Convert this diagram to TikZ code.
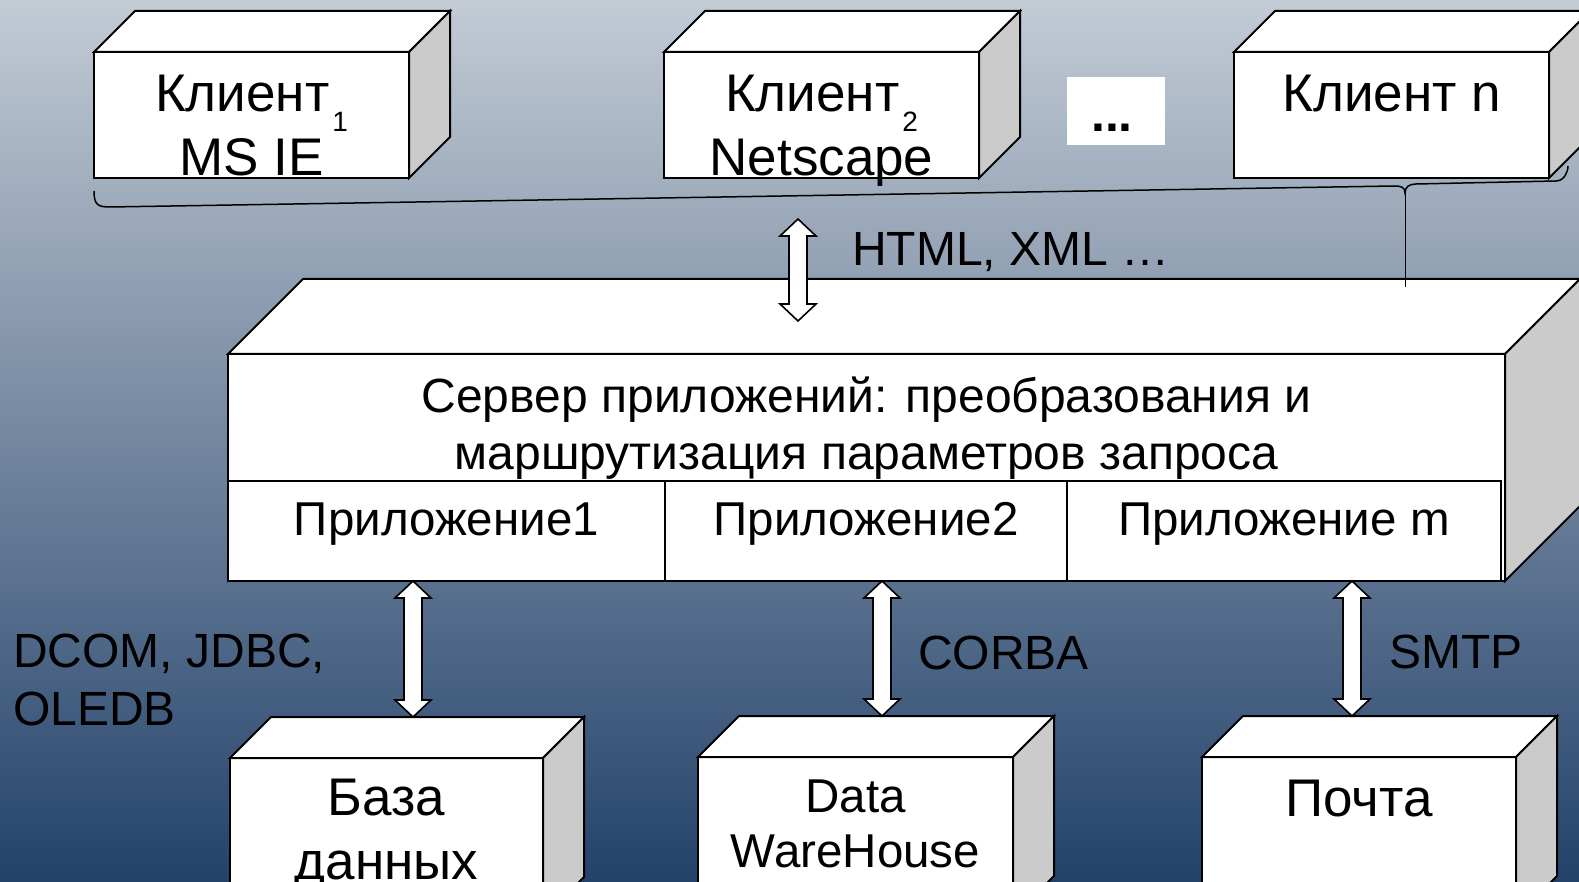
\documentclass[tikz,border=0pt]{standalone}
\usepackage{fontspec}
\setmainfont{Liberation Sans}
\usetikzlibrary{calc,positioning}
\definecolor{BgTop}{HTML}{C3CBD5}
\definecolor{BgMid}{HTML}{72869C}
\definecolor{BgBot}{HTML}{23426A}
\definecolor{Side}{HTML}{CBCBCB}
\tikzset{
  face/.style={draw=black, line width=2pt, fill=white, line join=miter},
  front/.style={face, rectangle, inner sep=0pt, outer sep=0pt, anchor=north west},
  cell/.style={front, minimum height=100pt, text height=20pt, text depth=12pt,
    font=\fontsize{47.5}{55}\selectfont},
  txt/.style={align=center, inner sep=0pt, anchor=base},
  lbl/.style={inner sep=0pt, anchor=base west, align=left, font=\fontsize{48}{58}\selectfont},
  dotbox/.style={fill=white, inner sep=0pt, outer sep=0pt, anchor=north west,
    font=\fontsize{50}{60}\selectfont\bfseries},
  pipe/.style={draw=black, line width=1.6pt, fill=white, line join=miter},
  brace/.style={draw=black, line width=1.5pt}
}
% top and side faces of a box, #1 = front node, #2 = depth
\newcommand\cubeback[2]{%
  \draw[face] (#1.north west) -- ++(#2,-#2) -- ($(#1.north east)+(#2,-#2)$) -- (#1.north east) -- cycle;
  \draw[face, fill=Side] (#1.north east) -- ($(#1.north east)+(#2,-#2)$) -- ($(#1.south east)+(#2,-#2)$) -- (#1.south east) -- cycle;
  \coordinate (#1-top) at ($(#1.north)+(#2,-#2)$);
}
% hollow two-way arrow, #1 upper tip, #2 lower tip
\newcommand\dblarrow[2]{%
  \draw[pipe] #1 -- ++(18,17) -- ++(-9,0) -- ($#2+(9,-17)$) -- ++(9,0) -- #2
    -- ++(-18,-17) -- ++(9,0) -- ($#1+(-9,17)$) -- ++(-9,0) -- cycle;
}
\newcommand\lowidx[1]{\kern3pt\raisebox{-20pt}{\fontsize{28}{28}\selectfont#1}}

\begin{document}
\begin{tikzpicture}[x=1pt,y=-1pt]
  \useasboundingbox (0,0) rectangle (1579,882);
  \clip (0,0) rectangle (1579,882);
  \fill[top color=BgTop, middle color=BgMid, bottom color=BgBot] (0,0) rectangle (1579,882);

  % clients (base = last line)
  \node[front, minimum width=315pt, minimum height=126pt] (c1) at (94,52) {};
  \cubeback{c1}{41}
  \node[front, minimum width=315pt, minimum height=126pt] (c2) at (664,52) {};
  \cubeback{c2}{41}
  \node[front, minimum width=315pt, minimum height=126pt] (cn) at (1234,52) {};
  \cubeback{cn}{41}
  \node[txt, font=\fontsize{53}{64}\selectfont] (c1t) at ($(c1.north)+(0,124)$) {Клиент\lowidx{1}\\MS IE};
  \node[txt, font=\fontsize{53}{64}\selectfont] (c2t) at ($(c2.north)+(0,124)$) {Клиент\lowidx{2}\\Netscape};
  \node[txt, font=\fontsize{53}{64}\selectfont] (cnt) at ($(cn.north)+(0,60)$) {Клиент n};
  \node[dotbox, minimum width=98pt, minimum height=68pt, text height=42pt, text depth=0pt] (dots) at (1067,77) {...\kern8pt};

  \draw[brace] ($(c1.south west)+(0,13)$) .. controls +(0,14) and +(-12,0) .. (110,207)
    -- (1394,186) .. controls +(7,0) and +(0,-6) .. (1405,193) coordinate (tip)
    .. controls +(0,-6) and +(-7,0) .. (1416,184) -- (1556,181)
    .. controls +(8,0) and +(0,6) .. ($(cn.south east)+(19,-12)$);

  % server
  \node[front, minimum width=1277pt, minimum height=227pt] (srv) at (228,354) {};
  \cubeback{srv}{75}
  \draw[line width=1pt] (tip) -- (tip |- 0,287);
  \node[txt, font=\fontsize{48}{57}\selectfont] (srvt) at ($(srv.north)+(0,115)$)
    {Сервер приложений: преобразования и\\маршрутизация параметров запроса};
  \node[cell, minimum width=437pt] (app1) at (228,481) {Приложение1};
  \node[cell, minimum width=402pt, right=0pt of app1] (app2) {Приложение2};
  \node[cell, minimum width=434pt, right=0pt of app2] (appm) {Приложение m};

  \coordinate (h1) at (798,219);
  \coordinate (h2) at (798,321);
  \dblarrow{(h1)}{(h2)}
  \node[lbl] (html) at (852,266) {HTML, XML …};

  % back ends
  \node[front, minimum width=313pt, minimum height=160pt] (db) at (230,758) {};
  \cubeback{db}{41}
  \node[front, minimum width=315pt, minimum height=160pt] (dw) at (698,757) {};
  \cubeback{dw}{41}
  \node[front, minimum width=314pt, minimum height=160pt] (mail) at (1202,757) {};
  \cubeback{mail}{41}
  \node[txt, font=\fontsize{53}{64}\selectfont] (dbt) at ($(db.north)+(0,121)$) {База\\данных};
  \node[txt, font=\fontsize{47.5}{55}\selectfont] (dwt) at ($(dw.north)+(0,110)$) {Data\\WareHouse};
  \node[txt, font=\fontsize{53}{55}\selectfont] (mailt) at ($(mail.north)+(0,59)$) {Почта};

  \coordinate (a1) at (413,0);
  \coordinate (a2) at (882,0);
  \coordinate (a3) at (1352,0);
  \dblarrow{(a1 |- srv.south)}{(a1 |- db-top)}
  \dblarrow{(a2 |- srv.south)}{(a2 |- dw-top)}
  \dblarrow{(a3 |- srv.south)}{(a3 |- mail-top)}

  \node[lbl] (dcom) at (13,725) {DCOM, JDBC,\\OLEDB};
  \node[lbl] (corba) at (918,669) {CORBA};
  \node[lbl] (smtp) at (1389,668) {SMTP};
\end{tikzpicture}
\end{document}
